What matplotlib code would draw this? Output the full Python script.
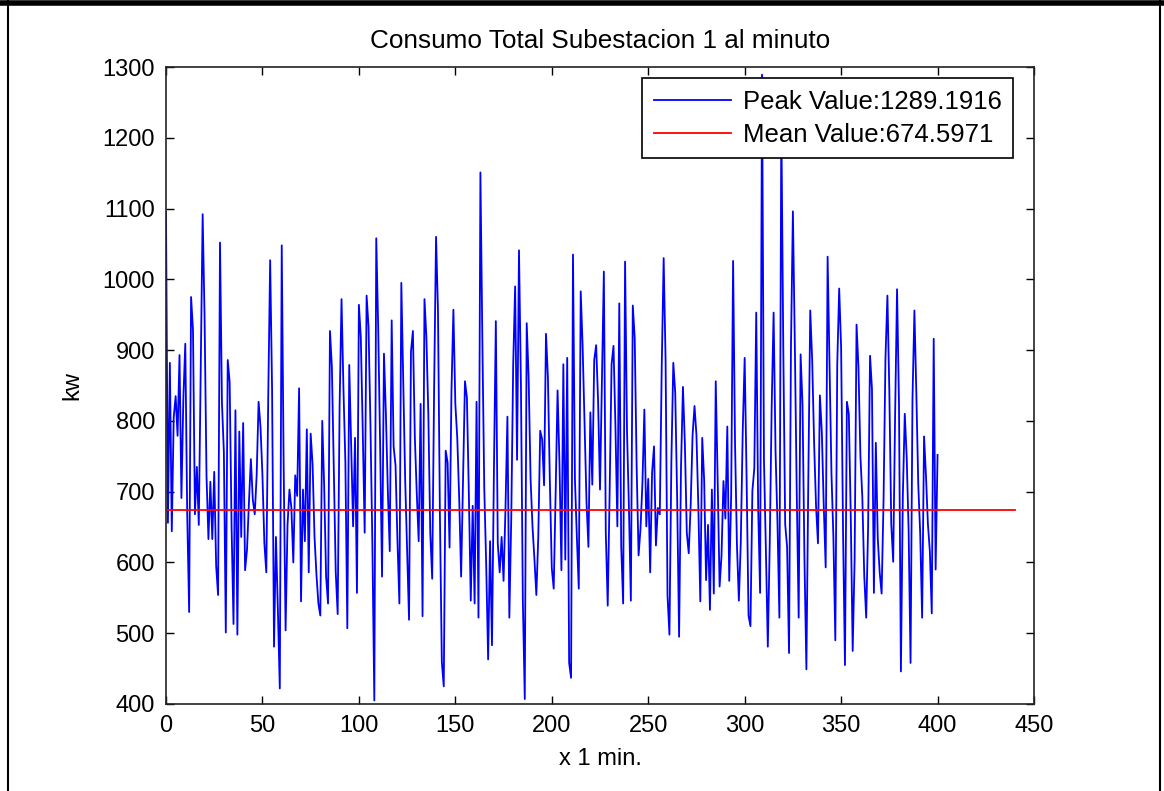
import numpy as np
import matplotlib
matplotlib.use("agg")
import matplotlib.pyplot as plt
from matplotlib.lines import Line2D

# consumo total, subestacion 1, una lectura por minuto (kw)
kw = [1095, 656, 882, 644, 805, 835, 779, 893, 691, 832,
      909, 668, 530, 975, 928, 668, 735, 653, 867, 1092,
      946, 722, 633, 714, 633, 728, 595, 554, 1052, 826,
      756, 501, 886, 855, 650, 513, 815, 498, 785, 636,
      797, 589, 618, 685, 746, 689, 668, 723, 827, 791,
      723, 627, 586, 833, 1027, 843, 481, 636, 533, 422,
      1048, 735, 504, 653, 703, 677, 600, 723, 694, 846,
      545, 703, 630, 788, 586, 782, 738, 636, 583, 542,
      525, 800, 708, 580, 542, 927, 876, 730, 586, 527,
      821, 972, 845, 741, 507, 879, 768, 651, 776, 557,
      964, 918, 786, 642, 977, 933, 794, 624, 405, 1058,
      933, 768, 580, 895, 810, 702, 616, 942, 764, 737,
      630, 542, 995, 858, 716, 619, 519, 898, 927, 777,
      698, 630, 824, 524, 972, 918, 810, 642, 577, 845,
      1060, 957, 668, 459, 425, 758, 741, 621, 843, 957,
      824, 776, 691, 580, 719, 856, 833, 698, 546, 680,
      542, 827, 522, 1151, 916, 705, 597, 463, 630, 483,
      728, 941, 627, 586, 636, 574, 677, 806, 522, 664,
      880, 990, 745, 1041, 853, 546, 407, 938, 861, 719,
      651, 605, 554, 636, 786, 774, 709, 923, 861, 715,
      592, 563, 698, 843, 739, 589, 880, 604, 889, 458,
      437, 1035, 718, 636, 563, 983, 905, 793, 686, 622,
      812, 710, 886, 907, 829, 703, 853, 1011, 642, 539,
      700, 880, 906, 793, 651, 966, 622, 542, 1025, 786,
      677, 546, 963, 917, 735, 610, 648, 712, 816, 651,
      718, 586, 727, 764, 624, 677, 668, 876, 1030, 886,
      553, 498, 743, 882, 840, 691, 495, 735, 848, 768,
      642, 613, 680, 780, 821, 780, 677, 545, 776, 716,
      575, 653, 533, 703, 556, 856, 716, 566, 610, 715,
      662, 792, 574, 694, 1026, 769, 624, 546, 630, 786,
      889, 719, 525, 510, 701, 733, 953, 677, 557, 1289.1916,
      745, 618, 481, 627, 819, 953, 757, 657, 522, 1225,
      909, 654, 622, 472, 904, 1096, 909, 698, 522, 894,
      822, 604, 449, 719, 956, 886, 769, 680, 627, 836,
      784, 680, 593, 1032, 880, 725, 636, 490, 880, 987,
      904, 645, 455, 827, 810, 666, 475, 604, 936, 875,
      751, 692, 581, 522, 651, 892, 845, 557, 769, 634,
      586, 556, 688, 889, 977, 842, 654, 601, 809, 986,
      825, 446, 694, 810, 749, 645, 458, 830, 956, 839,
      710, 641, 522, 778, 722, 654, 616, 528, 916, 590,
      752]
minutos = np.arange(len(kw))

peak_value = max(kw)
mean_value = 674.5971
mean_x = [0, 440]

plt.rcParams['font.family'] = ['Liberation Sans', 'DejaVu Sans']
plt.rcParams['font.size'] = 17

fig = plt.figure(figsize=(11.64, 7.91), dpi=100)
ax = fig.add_axes([166/1164, 87/791, 868/1164, 637/791])

ax.plot(minutos, kw, color=(0, 0, 1), lw=1.3,
        label="Peak Value:%.4f" % peak_value)
ax.plot(mean_x, [mean_value, mean_value], color=(1, 0, 0), lw=1.3,
        label="Mean Value:%.4f" % mean_value)

ax.set_xlim(0, 450)
ax.set_ylim(400, 1300)
ax.set_xticks(np.arange(0, 451, 50))
ax.set_yticks(np.arange(400, 1301, 100))
ax.tick_params(direction='in', top=True, right=True, length=6, width=1,
               pad=8, colors='black')
for s in ax.spines.values():
    s.set_linewidth(1.2)
    s.set_color('#222222')

ax.set_title("Consumo Total Subestacion 1 al minuto", pad=14, fontsize=18.8)
ax.set_xlabel("x 1 min.", labelpad=8)
ax.set_ylabel("kw", labelpad=14)

leg = ax.legend(loc='upper right', bbox_to_anchor=(0.9758, 0.9827),
                borderaxespad=0, fancybox=False, edgecolor='black',
                framealpha=1, handlelength=3.0, handletextpad=0.45,
                borderpad=0.45, labelspacing=0.35, fontsize=18.5)
leg.get_frame().set_linewidth(1.2)

# marco exterior
fig.add_artist(Line2D([0, 1], [0.996, 0.996], color='black', lw=4,
                      transform=fig.transFigure))
fig.add_artist(Line2D([8/1164, 8/1164], [0, 1], color='black', lw=1.5,
                      transform=fig.transFigure))
fig.add_artist(Line2D([1160/1164, 1160/1164], [0, 1], color='black', lw=1.5,
                      transform=fig.transFigure))

fig.savefig('out.png', dpi=100)
